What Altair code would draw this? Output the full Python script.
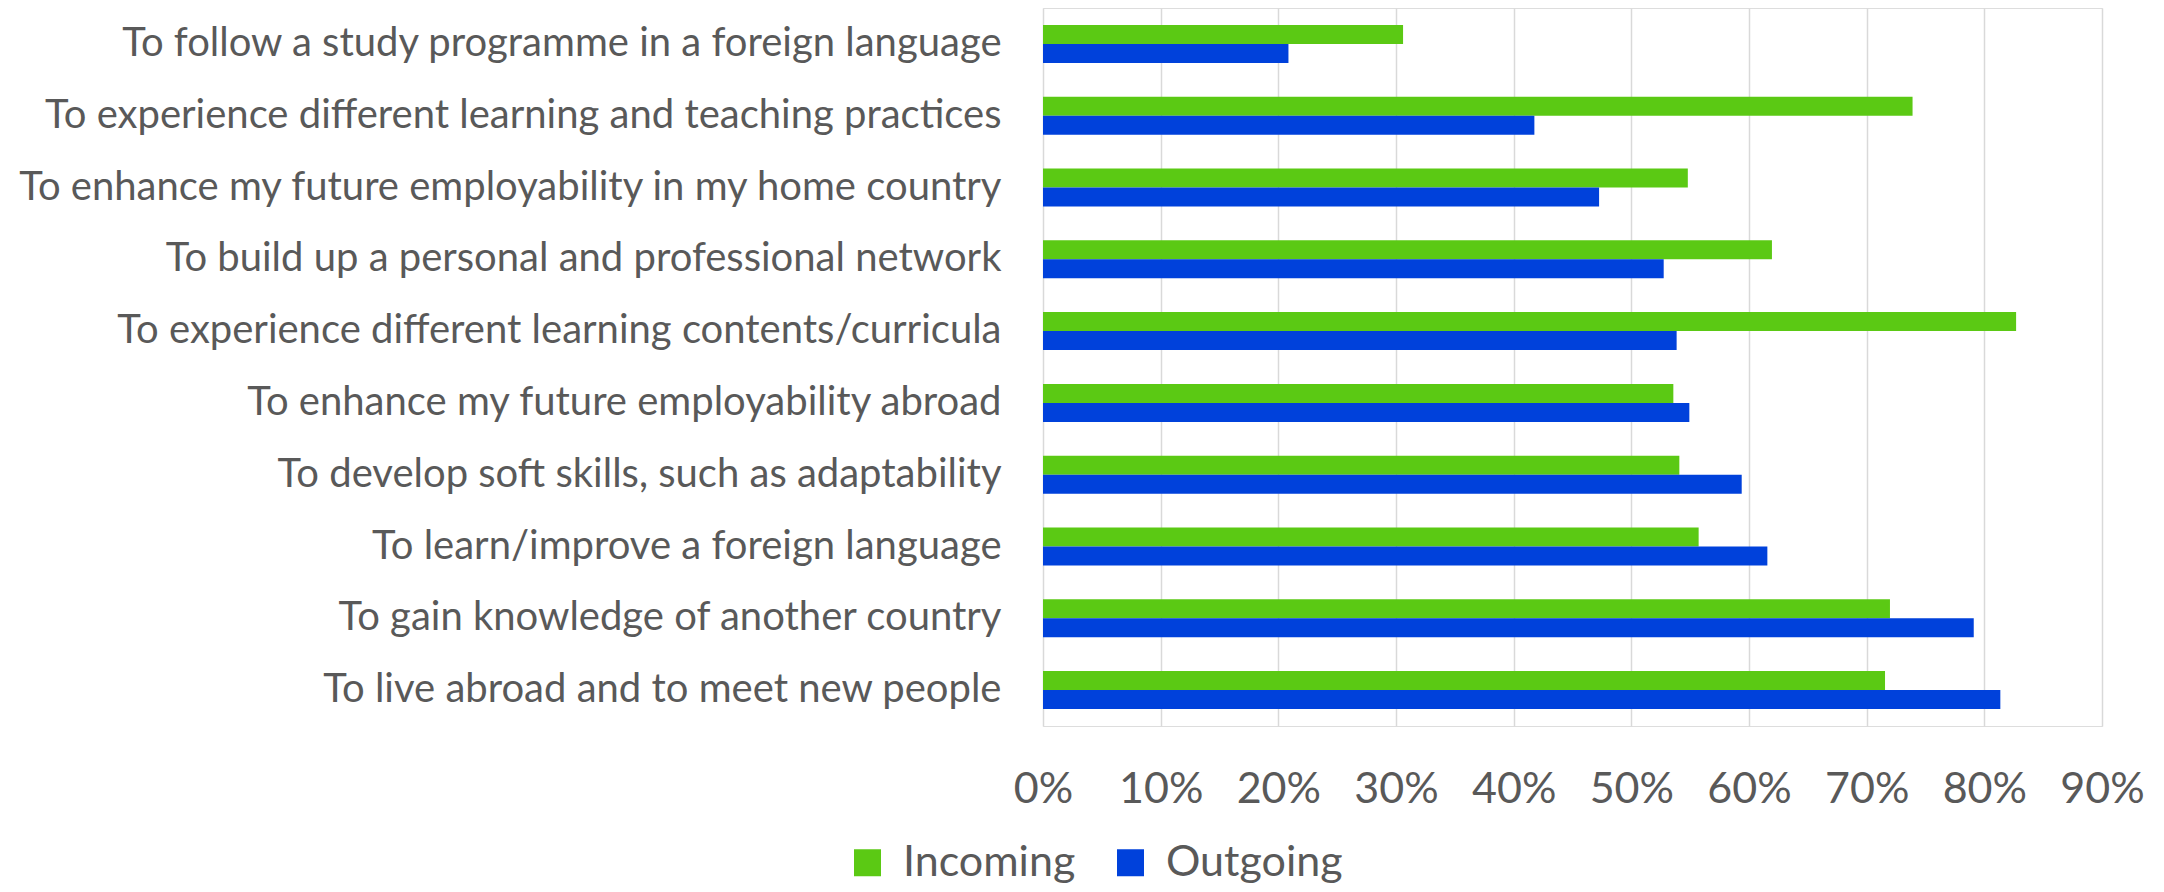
import altair as alt
import pandas as pd

categories = [
    "To follow a study programme in a foreign language",
    "To experience different learning and teaching practices",
    "To enhance my future employability in my home country",
    "To build up a personal and professional network",
    "To experience different learning contents/curricula",
    "To enhance my future employability abroad",
    "To develop soft skills, such as adaptability",
    "To learn/improve a foreign language",
    "To gain knowledge of another country",
    "To live abroad and to meet new people",
]
incoming = [0.306, 0.739, 0.548, 0.6195, 0.827, 0.5357, 0.5408, 0.5572, 0.7198, 0.7156]
outgoing = [0.2086, 0.4176, 0.4726, 0.5275, 0.5385, 0.5493, 0.5938, 0.6156, 0.791, 0.8136]
series = ["Incoming", "Outgoing"]
colors = ["#5BC914", "#0041DB"]
ticks = [0, 0.1, 0.2, 0.3, 0.4, 0.5, 0.6, 0.7, 0.8, 0.9]

rows = []
for c, a, b in zip(categories, incoming, outgoing):
    rows.append({"cat": c, "series": "Incoming", "value": a})
    rows.append({"cat": c, "series": "Outgoing", "value": b})
df = pd.DataFrame(rows)

FONT = "Lato"
TXT = "#595959"

chart = alt.Chart(df).mark_bar().encode(
    x=alt.X("value:Q",
            scale=alt.Scale(domain=[0, 0.9], nice=False, zero=True),
            axis=alt.Axis(title=None, format=".0%", values=ticks, grid=True,
                          gridColor="#d9d9d9", gridWidth=1.5, domain=False, ticks=False,
                          labelFontSize=43, labelFont=FONT, labelColor=TXT,
                          labelPadding=42, labelFlush=False, labelOverlap=False)),
    y=alt.Y("cat:N", sort=categories,
            scale=alt.Scale(paddingInner=0.471, paddingOuter=0.2355),
            axis=alt.Axis(title=None, domain=False, ticks=False, grid=False,
                          labelFontSize=40, labelFont=FONT, labelColor=TXT,
                          labelPadding=42, labelLimit=2000)),
    yOffset=alt.YOffset("series:N", sort=series,
                        scale=alt.Scale(paddingInner=0, paddingOuter=0)),
    color=alt.Color("series:N", sort=series,
                    scale=alt.Scale(domain=series, range=colors),
                    legend=alt.Legend(title=None, orient="none", direction="horizontal",
                                      legendX=-197, legendY=833,
                                      symbolType="square", symbolSize=729,
                                      symbolStrokeWidth=0, symbolOpacity=1,
                                      labelFontSize=43, labelFont=FONT, labelColor=TXT,
                                      labelLimit=500,
                                      labelOffset=14, columnPadding=33, padding=0)),
).properties(
    width=1059, height=718,
    autosize=alt.AutoSizeParams(type="none"),
    padding={"left": 1035, "top": 0, "right": 50, "bottom": 158},
).configure_view(stroke=None).configure(background="white")

chart.save("out.html", embed_options={"renderer": "svg", "actions": False})
